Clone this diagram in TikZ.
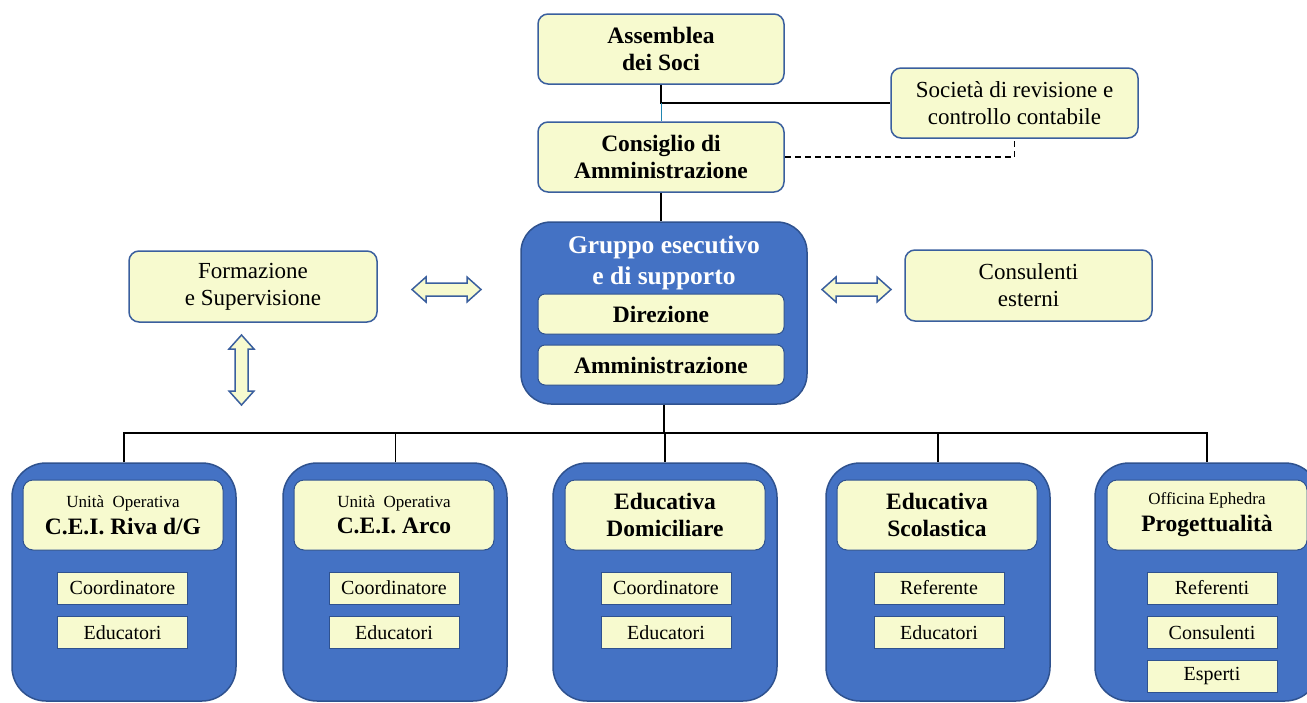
\documentclass[tikz,border=0pt]{standalone}
\usepackage{fontspec}
\setmainfont{Liberation Serif}
\definecolor{yfill}{RGB}{247,250,207}
\definecolor{bfill}{HTML}{4472C4}
\definecolor{bline}{HTML}{2F528F}
\definecolor{yline}{HTML}{3A5F9E}
\tikzset{
  reg/.style={font=\fontsize{23}{27}\selectfont},
  bld/.style={font=\bfseries\fontsize{23.5}{27}\selectfont},
  ybox/.style={draw=yline, line width=1.5pt, fill=yfill, rounded corners=10pt,
    align=center, inner sep=0pt, minimum width=246pt, minimum height=70pt},
  inbox/.style={draw=bline, line width=1pt, fill=yfill, rounded corners=7pt,
    align=center, inner sep=0pt, minimum width=246pt, minimum height=40pt, bld},
  bigbox/.style={draw=bline, line width=1.5pt, fill=bfill, rounded corners=34pt,
    inner sep=0pt, minimum width=224pt, minimum height=238pt},
  hdr/.style={draw=bline, line width=1pt, fill=yfill, rounded corners=10pt,
    align=center, inner sep=0pt, minimum width=200pt, minimum height=70pt},
  smallbox/.style={draw=bline, line width=1pt, fill=yfill, inner sep=0pt,
    minimum width=130pt, minimum height=32pt, font=\fontsize{20}{23}\selectfont},
  dbl/.style={draw=yline, line width=1.5pt, fill=yfill, line join=miter},
  conn/.style={line width=2pt, black},
  thinconn/.style={line width=1pt, black}
}
\newcommand{\smallfont}{\fontsize{17}{20}\selectfont}
\newcommand{\boldfont}{\bfseries\fontsize{23.5}{27}\selectfont}
\begin{document}
\begin{tikzpicture}[x=1pt,y=-1pt]
\useasboundingbox (0,0) rectangle (1307,702);
\clip (0,0) rectangle (1307,702);

% top nodes
\node[ybox, bld] (ass) at (661,49) {Assemblea\\dei Soci};
\node[ybox, reg, minimum width=247pt] (soc) at (1014.5,103) {Società di revisione e\\controllo contabile};
\node[ybox, bld] (cda) at (661,157) {Consiglio di\\Amministrazione};

% group
\node[draw=bline, line width=1.5pt, fill=bfill, rounded corners=30pt,
  minimum width=286pt, minimum height=182pt, inner sep=0pt] (grp) at (664,313) {};
\node[text=white, align=center, font=\bfseries\fontsize{25.5}{31}\selectfont] (grpt) at (664,263) {Gruppo esecutivo\\e di supporto};
\node[inbox] (dir) at (661,314) {Direzione};
\node[inbox] (amm) at (661,365) {Amministrazione};

% side nodes
\node[ybox, reg, minimum width=248pt, minimum height=71pt] (form) at (253,286.5) {Formazione\\e Supervisione};
\node[ybox, reg, minimum width=247pt, minimum height=71pt] (cons) at (1028.5,285.5) {Consulenti\\esterni};

% connectors top
\coordinate (j1) at (ass.south |- soc.west);
\draw[conn] (ass.south) -- (j1) -- (soc.west);
\draw[line width=1pt, bline!70!cyan] (j1) -- (cda.north);
\coordinate (j2) at (soc.south |- cda.east);
\draw[line width=1.5pt, dash pattern=on 6pt off 4pt] (cda.east) -- (j2) -- (soc.south);
\draw[conn] (cda.south) -- (grp.north -| cda.south);

% double arrows
\draw[dbl] (412,289.5) -- (426,277) -- (426,283) -- (467,283) -- (467,277) -- (481,289.5)
  -- (467,302) -- (467,296) -- (426,296) -- (426,302) -- cycle;
\draw[dbl] (822,289.5) -- (836,277) -- (836,283) -- (877,283) -- (877,277) -- (891,289.5)
  -- (877,302) -- (877,296) -- (836,296) -- (836,302) -- cycle;
\draw[dbl] (241.5,335) -- (254,349) -- (248,349) -- (248,391) -- (254,391) -- (241.5,405)
  -- (229,391) -- (235,391) -- (235,349) -- (229,349) -- cycle;

% bottom units
\foreach \n/\cx in {1/124,2/395,3/665,4/938,5/1207}{
  \node[bigbox] (u\n) at (\cx,582) {};
}
\node[hdr] (h1) at (123,515) {{\smallfont Unità\ \ Operativa}\\[6pt]{\boldfont C.E.I. Riva d/G}};
\node[hdr] (h2) at (394,515) {{\smallfont Unità\ \ Operativa}\\[6pt]{\boldfont C.E.I. Arco}};
\node[hdr, bld] (h3) at (665,515) {Educativa\\Domiciliare};
\node[hdr, bld] (h4) at (937,515) {Educativa\\Scolastica};
\node[hdr] (h5) at (1207,515) {{\smallfont Officina Ephedra}\\[6pt]{\boldfont Progettualità}};

\node[smallbox] (c1) at (122.5,588) {Coordinatore};
\node[smallbox] (e1) at (122.5,632.5) {Educatori};
\node[smallbox] (c2) at (394,588) {Coordinatore};
\node[smallbox] (e2) at (394,632.5) {Educatori};
\node[smallbox] (c3) at (666,588) {Coordinatore};
\node[smallbox] (e3) at (666,632.5) {Educatori};
\node[smallbox] (c4) at (939,588) {Referente};
\node[smallbox] (e4) at (939,632.5) {Educatori};
\node[smallbox] (r5) at (1212,588) {Referenti};
\node[smallbox] (k5) at (1212,632.5) {Consulenti};
\node[smallbox] (x5) at (1212,676) {Esperti};

% bus
\coordinate (bus) at (664,433);
\draw[conn] (grp.south -| bus) -- (bus);
\draw[conn] (u1.north) -- (u1.north |- bus) -- (u5.north |- bus) -- (u5.north);
\draw[thinconn] (u2.north |- bus) -- (u2.north);
\draw[conn] (u3.north |- bus) -- (u3.north);
\draw[conn] (u4.north |- bus) -- (u4.north);
\end{tikzpicture}
\end{document}
